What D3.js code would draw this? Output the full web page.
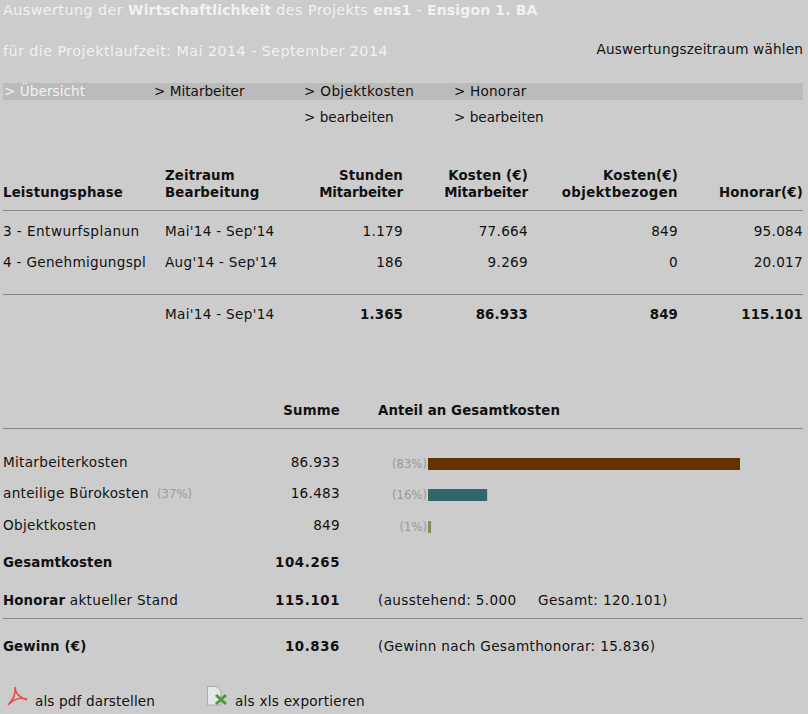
<!DOCTYPE html>
<html><head><meta charset="utf-8">
<script src="https://cdn.jsdelivr.net/npm/d3@7"></script>
<style>
html,body{margin:0;padding:0;background:#cccccc;overflow:hidden}
text{font-family:"DejaVu Sans",Verdana,sans-serif;font-size:13.6px;fill:#111}
</style></head><body>
<svg id="c" width="808" height="714"></svg>
<script>
const navFirst = ["> Übersicht","> Mitarbeiter","> Objektkosten","> Honorar"];
const navSpacing = [0.05,0,0.33,0.2];
const phaseHeaders = [["Leistungsphase"],["Zeitraum","Bearbeitung"],["Stunden","Mitarbeiter"],["Kosten (€)","Mitarbeiter"],["Kosten(€)","objektbezogen"],["Honorar(€)"]];
const phases = ["3 - Entwurfsplanun","4 - Genehmigungspl"];
const periods = ["Mai'14 - Sep'14","Aug'14 - Sep'14"];
const hours = ["1.179","186"];
const staffCost = ["77.664","9.269"];
const objectCost = ["849","0"];
const fee = ["95.084","20.017"];
const totals = ["Mai'14 - Sep'14","1.365","86.933","849","115.101"];
const costLabels = ["Mitarbeiterkosten","anteilige Bürokosten","Objektkosten"];
const costValues = [86933,16483,849];
const costText = ["86.933","16.483","849"];
const costShare = ["(83%)","(16%)","(1%)"];
const barColors = ["#663300","#336666","#7f9055"];

const svg = d3.select("#c");
const T=(x,y,s,o={})=>{const t=svg.append("text").attr("x",x).attr("y",y).text(s)
  .attr("text-anchor",o.a||"start").style("font-weight",o.b?"bold":"normal").style("fill",o.c||"#111")
  .style("letter-spacing",(o.ls!==undefined?o.ls:(o.b?0.15:0.3))+"px");
  if(o.b)t.style("font-size","13.33px");
  if(o.s)t.style("font-size",o.s+"px");return t;};
const rule=(y,c="#888")=>svg.append("line").attr("x1",3).attr("x2",803).attr("y1",y+.5).attr("y2",y+.5).attr("stroke",c);

const W="#f2f2f2";
const title=svg.append("text").attr("x",3).attr("y",15).style("fill",W);
[["Auswertung der ",0],["Wirtschaftlichkeit",1],[" des Projekts ",0],["ens1",1],[" - ",0],["Ensigon 1. BA",1]].forEach(([s,b])=>
  title.append("tspan").text(s).style("font-weight",b?"bold":"normal").style("fill",W)
   .style("font-size",b?"14px":"14.3px").style("letter-spacing",b?"0.15px":"0.45px").attr("xml:space","preserve"));
T(3,56,"für die Projektlaufzeit: Mai 2014 - September 2014",{c:W,s:14.3,ls:0.45});
T(803,54,"Auswertungszeitraum wählen",{a:"end",ls:0.18});

svg.append("rect").attr("x",3).attr("y",83).attr("width",800).attr("height",17).attr("fill","#bbbbbb");
const navX=d3.scalePoint().domain(navFirst).range([4,454]);
navFirst.forEach((s,i)=>T(navX(s),96,s,{c:i?"#111":W,ls:navSpacing[i]}));
T(navX(navFirst[2]),122,"> bearbeiten",{ls:0});
T(navX(navFirst[3]),122,"> bearbeiten",{ls:0});

const colX=[3,165,403,528,678,803], anchors=["start","start","end","end","end","end"];
phaseHeaders.forEach((h,i)=>{
  h.forEach((s,j)=>T(colX[i],197-(h.length-1-j)*17,s,{a:anchors[i],b:1,ls:s==="Mitarbeiter"?-0.1:(s==="objektbezogen"?0.4:0.15)}));
});
rule(210);
const rows=d3.scalePoint().domain(phases).range([236,267]);
phases.forEach((p,i)=>{
  const y=rows(p);
  [p,periods[i],hours[i],staffCost[i],objectCost[i],fee[i]].forEach((s,k)=>T(colX[k],y,s,{a:anchors[k],ls:k===0&&i===0?0.45:0.3}));
});
rule(294);
totals.forEach((s,i)=>T(colX[i+1],319,s,{a:anchors[i+1],b:i>0}));

T(340,415,"Summe",{a:"end",b:1});
T(378,415,"Anteil an Gesamtkosten",{b:1,ls:0.1});
rule(428);
const x=d3.scaleLinear().domain([0,d3.max(costValues)]).range([0,312]);
const y=d3.scaleOrdinal().domain(costLabels).range([467,498,530]);
costLabels.forEach((l,i)=>{
  T(3,y(l),l);
  T(340,y(l),costText[i],{a:"end"});
  T(427,y(l)+.5,costShare[i],{a:"end",c:"#999",s:11.5,ls:0.1});
  svg.append("rect").attr("x",428).attr("y",y(l)-9).attr("width",Math.max(2,x(costValues[i]))).attr("height",12).attr("fill",barColors[i]);
});
T(157,498,"(37%)",{c:"#999",s:11.5,ls:0.1});
T(3,567,"Gesamtkosten",{b:1}); T(340,567,"104.265",{a:"end",b:1,ls:0.6});
const h=svg.append("text").attr("x",3).attr("y",605);
h.append("tspan").text("Honorar").style("font-weight","bold").style("font-size","13.33px").style("letter-spacing","0.15px");
h.append("tspan").text(" aktueller Stand").attr("xml:space","preserve").style("letter-spacing","0.3px");
T(340,605,"115.101",{a:"end",b:1,ls:0.6});
T(378,605,"(ausstehend: 5.000",{ls:0.35});
T(538,605,"Gesamt: 120.101)",{ls:0.4});
rule(618);
T(3,651,"Gewinn (€)",{b:1}); T(340,651,"10.836",{a:"end",b:1,ls:0.6});
T(378,651,"(Gewinn nach Gesamthonorar: 15.836)",{ls:0.33});

svg.append("path").attr("d","M15 687 C15 692 18 697 27 700 M15 687 C16 694 13 700 8 705 M9 704 C14 699 20 697 27 699")
  .attr("fill","none").attr("stroke","#e8474c").attr("stroke-width",1.6);
T(35,706,"als pdf darstellen",{ls:0.13});
svg.append("path").attr("d","M207.5 686.5 H217 L221 691 V705 H207.5 Z").attr("fill","#e6e6e6").attr("stroke","#aaa");
svg.append("path").attr("d","M216 695 L226 704 M226 695 L216 704").attr("fill","none").attr("stroke","#4a9a3a").attr("stroke-width",3);
T(235,706,"als xls exportieren",{ls:0.25});
</script></body></html>
